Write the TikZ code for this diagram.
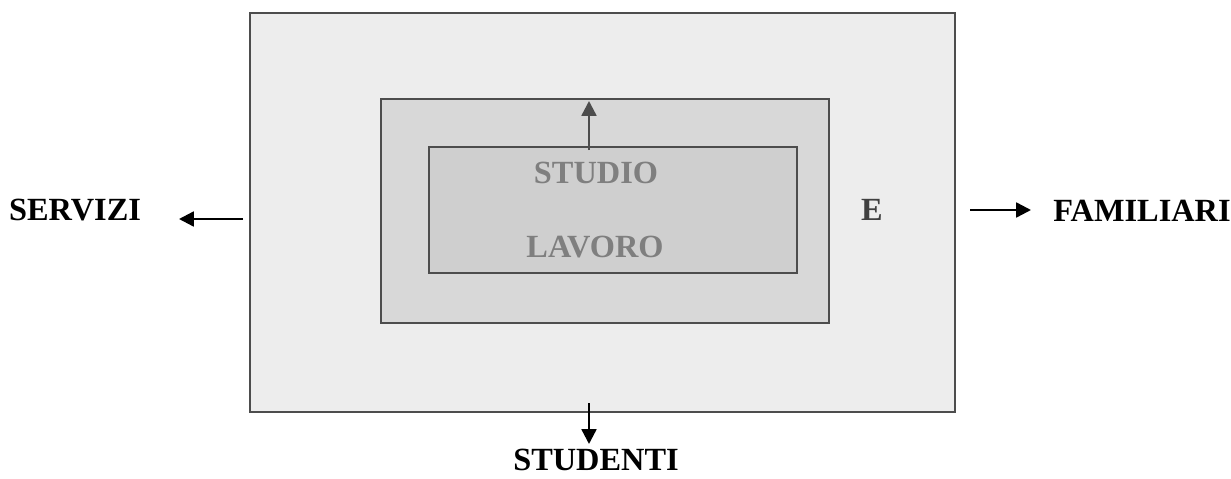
\documentclass[tikz,border=0pt]{standalone}
\usepackage{fontspec}
\setmainfont{Liberation Serif}
\usetikzlibrary{positioning, arrows.meta}
\definecolor{boxline}{HTML}{4D4D4D}
\definecolor{outerfill}{HTML}{EDEDED}
\definecolor{midfill}{HTML}{D8D8D8}
\definecolor{innerfill}{HTML}{CFCFCF}
\definecolor{innertext}{HTML}{7F7F7F}
\tikzset{
	lbl/.style={font=\bfseries\fontsize{23}{26}\selectfont, inner sep=0pt},
	arr/.style={line width=1.7pt, -{Triangle[length=10.5pt, width=10.5pt]}}
}
\begin{document}
\begin{tikzpicture}[x=0.025cm, y=-0.025cm]
	\useasboundingbox (0,0) rectangle (1231,479);
	\draw[boxline, line width=1.3pt, fill=outerfill] (250,13) rectangle (955,412);
	\draw[boxline, line width=1.3pt, fill=midfill] (381,99) rectangle (829,323);
	\draw[boxline, line width=1.3pt, fill=innerfill] (429,147) rectangle (797,273);
	\node (studio) at (596,173)[lbl, text=innertext]{STUDIO};
	\node (lavoro) at (595,247)[lbl, text=innertext]{LAVORO};
	\node (e) at (872,210)[lbl, text=black!75]{E};
	\node (servizi) at (75,210)[lbl]{SERVIZI};
	\node (familiari) at (1142,211)[lbl]{FAMILIARI};
	\node (studenti) at (596,460)[lbl]{STUDENTI};
	\coordinate (lfrom) at (243,219);
	\coordinate (rfrom) at (970,210);
	\coordinate (ufrom) at (589,150);
	\coordinate (dfrom) at (589,403);
	\draw[arr] (lfrom) -- (179,219) coordinate (lto);
	\draw[arr] (rfrom) -- (1031,210) coordinate (rto);
	\draw[arr, boxline] (ufrom) -- (589,101) coordinate (uto);
	\draw[arr] (dfrom) -- (589,444) coordinate (dto);
\end{tikzpicture}
\end{document}
